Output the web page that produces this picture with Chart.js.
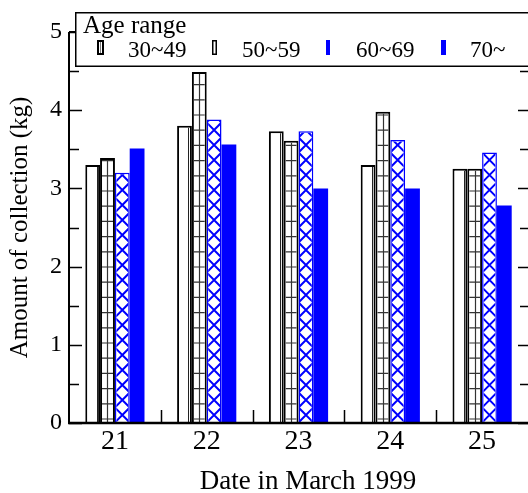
<!DOCTYPE html>
<html>
<head>
<meta charset="utf-8">
<script src="https://cdn.jsdelivr.net/npm/chart.js@4/dist/chart.umd.min.js"></script>
<style>
  html, body { margin: 0; padding: 0; background: #fff; }
  canvas { display: block; }
</style>
</head>
<body>
<canvas id="c" width="528" height="493"></canvas>
<script>
// ---- data ----
const categories = ['21', '22', '23', '24', '25'];
const seriesLabels = ['30~49', '50~59', '60~69', '70~'];
const age30to49 = [3.30, 3.80, 3.73, 3.30, 3.25];
const age50to59 = [3.39, 4.49, 3.61, 3.98, 3.25];
const age60to69 = [3.20, 3.88, 3.73, 3.62, 3.46];
const age70plus = [3.51, 3.56, 3.00, 3.00, 2.78];
const yTickValues = [0, 1, 2, 3, 4, 5];
const legendTitle = 'Age range';
const xTitle = 'Date in March 1999';
const yTitle = 'Amount of collection (kg)';

const FONT = '"Liberation Serif", "Times New Roman", serif';
const BLUE = '#0000ff';
const patterns = ['vlines', 'grid', 'cross', null];

const patternPlugin = {
  id: 'barPatterns',
  afterDatasetsDraw(chart) {
    const ctx = chart.ctx;
    chart.data.datasets.forEach((ds, di) => {
      const kind = patterns[di];
      if (!kind) return;
      const meta = chart.getDatasetMeta(di);
      meta.data.forEach(el => {
        const p = el.getProps(['x', 'y', 'base', 'width'], true);
        const l = p.x - p.width / 2, r = p.x + p.width / 2;
        const t = Math.min(p.y, p.base), b = Math.max(p.y, p.base);
        const bw = ds.borderWidth;
        ctx.save();
        ctx.beginPath();
        ctx.rect(l + bw, t + bw, r - l - 2 * bw, b - t - bw);
        ctx.clip();
        if (kind === 'vlines') {
          ctx.strokeStyle = '#222';
          ctx.lineWidth = 1;
          const xx = Math.round(l + (r - l) * 0.76) + 0.5;
          ctx.beginPath(); ctx.moveTo(xx, t); ctx.lineTo(xx, b); ctx.stroke();
        } else if (kind === 'grid') {
          ctx.strokeStyle = '#333';
          ctx.lineWidth = 1.2;
          ctx.beginPath();
          for (let yy = b - 4; yy > t; yy -= 15.2) {
            ctx.moveTo(l, yy); ctx.lineTo(r, yy);
          }
          const xm = Math.round((l + r) / 2) + 0.5;
          ctx.moveTo(xm, t); ctx.lineTo(xm, b);
          ctx.stroke();
        } else if (kind === 'cross') {
          ctx.strokeStyle = BLUE;
          ctx.lineWidth = 2;
          const per = 15;
          ctx.beginPath();
          for (let cy = b - 8; cy > t - per; cy -= per) {
            ctx.moveTo(l, cy - per / 2); ctx.lineTo(r, cy + per / 2);
            ctx.moveTo(l, cy + per / 2); ctx.lineTo(r, cy - per / 2);
          }
          ctx.stroke();
        }
        ctx.restore();
      });
    });
  }
};

const framePlugin = {
  id: 'frameTicks',
  afterDatasetsDraw(chart) {
    const ctx = chart.ctx;
    const { left, right, top, bottom } = chart.chartArea;
    const ys = chart.scales.y, xs = chart.scales.x;
    ctx.save();
    ctx.strokeStyle = '#000';
    ctx.lineWidth = 1.5;
    ctx.beginPath();
    for (let v = 0; v <= 5.001; v += 0.5) {
      const py = Math.round(ys.getPixelForValue(v)) + 0.5;
      const major = Math.abs(v - Math.round(v)) < 1e-6;
      ctx.moveTo(left, py); ctx.lineTo(left + (major ? 13 : 10), py);
      ctx.moveTo(right + 1, py); ctx.lineTo(right - (major ? 10 : 8), py);
    }
    for (let i = 1; i < categories.length; i++) {
      const px = Math.round((xs.getPixelForTick(i - 1) + xs.getPixelForTick(i)) / 2) + 0.5;
      ctx.moveTo(px, bottom); ctx.lineTo(px, bottom - 13);
      ctx.moveTo(px, top); ctx.lineTo(px, top + 13);
    }
    ctx.stroke();
    ctx.lineWidth = 2;
    ctx.beginPath();
    ctx.moveTo(left, top); ctx.lineTo(left, bottom);
    ctx.moveTo(left, top); ctx.lineTo(right, top);
    ctx.stroke();
    ctx.lineWidth = 2.5;
    ctx.beginPath();
    ctx.moveTo(left - 1, bottom); ctx.lineTo(right, bottom);
    ctx.stroke();
    // x axis title
    ctx.fillStyle = '#000';
    ctx.font = '27px ' + FONT;
    ctx.textAlign = 'center';
    ctx.textBaseline = 'alphabetic';
    ctx.fillText(xTitle, 308, 489);
    ctx.restore();
  }
};

const legendPlugin = {
  id: 'ageLegend',
  afterDraw(chart) {
    const ctx = chart.ctx;
    ctx.save();
    ctx.fillStyle = '#fff';
    ctx.fillRect(75, 12, 470, 54);
    ctx.strokeStyle = '#000';
    ctx.lineWidth = 1.5;
    ctx.strokeRect(75.75, 12.75, 470, 53.5);
    ctx.fillStyle = '#000';
    ctx.textBaseline = 'alphabetic';
    ctx.textAlign = 'left';
    ctx.font = '25px ' + FONT;
    ctx.fillText(legendTitle, 83, 33);
    ctx.font = '23px ' + FONT;
    seriesLabels.forEach((lab, i) => {
      const sx = Math.round(97 + i * 114.5);
      const tx = 128 + i * 114;
      if (i === 0) {
        ctx.fillStyle = '#000'; ctx.fillRect(sx, 40, 7, 15);
        ctx.fillStyle = '#fff'; ctx.fillRect(sx + 2, 42, 3, 11);
        ctx.fillStyle = '#777'; ctx.fillRect(sx + 3, 42, 1, 11);
      } else if (i === 1) {
        ctx.fillStyle = '#000'; ctx.fillRect(sx, 40, 5, 15);
        ctx.fillStyle = '#fff'; ctx.fillRect(sx + 1.5, 41.5, 2, 12);
      } else if (i === 2) {
        ctx.fillStyle = BLUE; ctx.fillRect(sx, 40, 4, 15);
      } else {
        ctx.fillStyle = BLUE; ctx.fillRect(sx, 40, 5, 15);
      }
      ctx.fillStyle = '#000';
      ctx.fillText(lab, tx, 57);
    });
    ctx.restore();
  }
};

new Chart(document.getElementById('c'), {
  type: 'bar',
  data: {
    labels: categories,
    datasets: [
      { label: seriesLabels[0], data: age30to49, backgroundColor: '#fff', borderColor: '#000', borderWidth: 2 },
      { label: seriesLabels[1], data: age50to59, backgroundColor: '#fff', borderColor: '#000', borderWidth: 2 },
      { label: seriesLabels[2], data: age60to69, backgroundColor: '#fff', borderColor: BLUE, borderWidth: 1.5 },
      { label: seriesLabels[3], data: age70plus, backgroundColor: BLUE, borderColor: BLUE, borderWidth: 0 }
    ]
  },
  options: {
    responsive: false,
    devicePixelRatio: 1,
    animation: false,
    layout: { padding: { top: 32, right: 0, left: 0, bottom: 0 } },
    datasets: { bar: { categoryPercentage: 0.645, barPercentage: 1.0 } },
    plugins: { legend: { display: false }, tooltip: { enabled: false } },
    scales: {
      x: {
        offset: true,
        grid: { display: false, drawTicks: false },
        border: { display: false },
        ticks: { color: '#000', font: { family: FONT, size: 28, lineHeight: 1 }, padding: 5, maxRotation: 0 },
        title: { display: false },
        afterFit(s) { s.height = 70; }
      },
      y: {
        min: 0, max: 5,
        grid: { display: false, drawTicks: false },
        border: { display: false },
        afterBuildTicks(s) { s.ticks = yTickValues.map(v => ({ value: v })); },
        ticks: { color: '#000', font: { family: FONT, size: 24 }, padding: 7 },
        title: { display: true, text: yTitle, color: '#000', font: { family: FONT, size: 25, lineHeight: 1 }, padding: { top: 8, bottom: 0 } },
        afterFit(s) { s.width = 69; }
      }
    }
  },
  plugins: [patternPlugin, framePlugin, legendPlugin]
});
</script>
</body>
</html>
